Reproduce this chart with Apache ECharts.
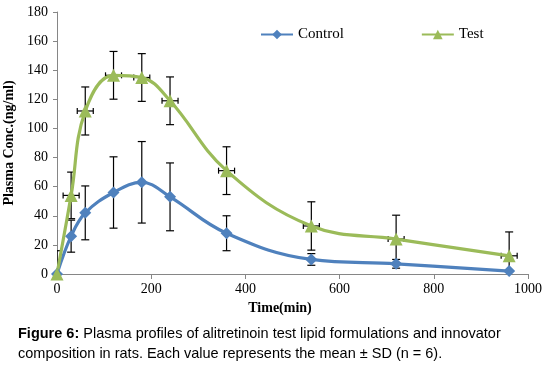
<!DOCTYPE html>
<html><head><meta charset="utf-8">
<script src="https://cdn.jsdelivr.net/npm/echarts@6/dist/echarts.min.js"></script>
<style>html,body{margin:0;padding:0;background:#fff}#c{width:546px;height:370px}</style>
</head><body><div id="c"></div>
<script>
var time = [0, 30, 60, 120, 180, 240, 360, 540, 720, 960];
var controlMean = [0, 26, 42, 56, 63, 53, 28, 10, 7, 2];
var controlSD = [0, 11, 18.5, 24.5, 28, 23.3, 12, 4, 3, 0];
var testMean = [0, 54, 112, 136.5, 135, 119, 71, 33, 24, 12.5];
var testSD = [16, 16, 16.5, 16.4, 16.4, 16.4, 16.4, 16.6, 16.4, 16.4];
var testTimeSD = [0, 17, 17, 17, 17, 17, 17, 17, 17, 17];
var yTicks = [0, 20, 40, 60, 80, 100, 120, 140, 160, 180];
var xTicks = [0, 200, 400, 600, 800, 1000];

var serif = '"Liberation Serif", "Times New Roman", serif';
var sans = '"Liberation Sans", Arial, sans-serif';

function pairs(m) { return time.map(function (t, i) { return [t, m[i]]; }); }
function errData(m, sd, xsd) {
  return time.map(function (t, i) { return [t, m[i], sd[i], xsd ? xsd[i] : 0]; });
}
function renderErr(params, api) {
  var t = api.value(0), m = api.value(1), sd = api.value(2), xs = api.value(3);
  var children = [];
  var st = { stroke: '#000', lineWidth: 1.2 };
  if (sd > 0) {
    var top = api.coord([t, m + sd]), bot = api.coord([t, m - sd]);
    children.push({ type: 'line', shape: { x1: top[0], y1: top[1], x2: bot[0], y2: bot[1] }, style: st });
    children.push({ type: 'line', shape: { x1: top[0] - 4, y1: top[1], x2: top[0] + 4, y2: top[1] }, style: st });
    children.push({ type: 'line', shape: { x1: bot[0] - 4, y1: bot[1], x2: bot[0] + 4, y2: bot[1] }, style: st });
  }
  if (xs > 0) {
    var l = api.coord([t - xs, m]), r = api.coord([t + xs, m]);
    children.push({ type: 'line', shape: { x1: l[0], y1: l[1], x2: r[0], y2: r[1] }, style: st });
    children.push({ type: 'line', shape: { x1: l[0], y1: l[1] - 3, x2: l[0], y2: l[1] + 3 }, style: st });
    children.push({ type: 'line', shape: { x1: r[0], y1: r[1] - 3, x2: r[0], y2: r[1] + 3 }, style: st });
  }
  return { type: 'group', children: children };
}

var chart = echarts.init(document.getElementById('c'), null, { renderer: 'canvas' });
chart.setOption({
  animation: false,
  backgroundColor: '#fff',
  grid: { left: 57, right: 18, top: 12, bottom: 96, containLabel: false, outerBoundsMode: 'none' },
  legend: {
    top: 27, left: 260, padding: 0, itemWidth: 32, itemHeight: 12, itemGap: 77,
    textStyle: { fontFamily: serif, fontSize: 15, color: '#000' },
    data: ['Control', 'Test']
  },
  xAxis: {
    type: 'value', min: xTicks[0], max: xTicks[xTicks.length - 1], interval: 200,
    name: 'Time(min)', nameLocation: 'middle', nameGap: 25,
    nameTextStyle: { fontFamily: serif, fontSize: 14, fontWeight: 'bold', color: '#000', padding: [0, 25, 0, 0] },
    axisLine: { lineStyle: { color: '#868686', width: 1 } },
    axisTick: { show: true, length: 5, lineStyle: { color: '#868686' } },
    axisLabel: { fontFamily: serif, fontSize: 14, color: '#000', margin: 8, formatter: function (v) { return String(v); } },
    splitLine: { show: false }
  },
  yAxis: {
    type: 'value', min: yTicks[0], max: yTicks[yTicks.length - 1], interval: 20,
    name: 'Plasma Conc.(ng/ml)', nameLocation: 'middle', nameGap: 36, nameRotate: 90,
    nameTextStyle: { fontFamily: serif, fontSize: 14, fontWeight: 'bold', color: '#000' },
    axisLine: { show: true, lineStyle: { color: '#868686', width: 1 } },
    axisTick: { show: true, length: 4, lineStyle: { color: '#868686' } },
    axisLabel: { fontFamily: serif, fontSize: 14, color: '#000', margin: 9 },
    splitLine: { show: false }
  },
  series: [
    { type: 'custom', name: 'ctrlErr', renderItem: renderErr, data: errData(controlMean, controlSD), clip: true, z: 1, silent: true },
    { type: 'custom', name: 'testErr', renderItem: renderErr, data: errData(testMean, testSD, testTimeSD), clip: true, z: 1, silent: true },
    {
      type: 'line', name: 'Control', data: pairs(controlMean), smooth: 0.4,
      symbol: 'diamond', symbolSize: 12, z: 3,
      lineStyle: { color: '#4f81bd', width: 3.2 },
      itemStyle: { color: '#4f81bd' }
    },
    {
      type: 'line', name: 'Test', data: pairs(testMean), smooth: 0.4,
      symbol: 'triangle', symbolSize: 13, z: 3,
      lineStyle: { color: '#9bbb59', width: 3.2 },
      itemStyle: { color: '#9bbb59' }
    }
  ],
  graphic: [
    {
      type: 'text', left: 18, top: 324,
      style: {
        text: '{b|Figure 6:} Plasma profiles of alitretinoin test lipid formulations and innovator\ncomposition in rats. Each value represents the mean ± SD (n = 6).',
        font: '14.5px ' + sans, fill: '#000', lineHeight: 20,
        rich: { b: { fontFamily: sans, fontSize: 14.5, fontWeight: 'bold', fill: '#000', lineHeight: 20 } }
      }
    }
  ]
});
</script></body></html>
